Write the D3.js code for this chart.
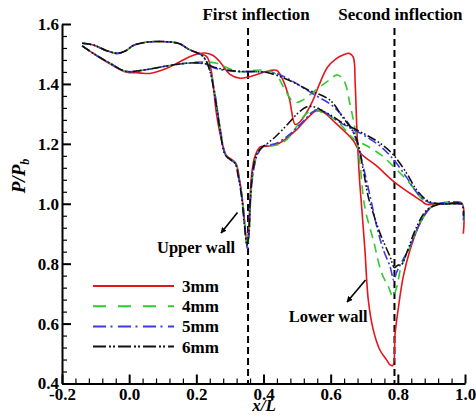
<!DOCTYPE html>
<html>
<head>
<meta charset="utf-8">
<script src="https://cdn.jsdelivr.net/npm/d3@7"></script>
<style>
  body { margin: 0; background: #fff; }
  svg { display: block; }
</style>
</head>
<body>
<svg id="chart" width="476" height="419"></svg>
<script>
// ---- Wall pressure distributions P/Pb along x/L for four step heights ----
const seriesNames = ["3mm", "4mm", "5mm", "6mm"];
const seriesColors = ["#e3161e", "#2fcc2f", "#3a3ae6", "#111111"];

const xTicks = [-0.2, 0.0, 0.2, 0.4, 0.6, 0.8, 1.0];
const yTicks = [0.4, 0.6, 0.8, 1.0, 1.2, 1.4, 1.6];
const inflections = [0.354, 0.79];
const inflectionLabels = ["First inflection", "Second inflection"];

// shared leading parts (the four cases coincide upstream)
const upperLead = [[-0.14,1.536],[-0.107,1.53],[-0.067,1.511],[-0.035,1.502],[-0.01,1.511],[0.012,1.528],[0.05,1.539],[0.11,1.541],[0.15,1.534],[0.175,1.517],[0.2,1.505]];
const lowerLead = [[-0.14,1.527],[-0.107,1.502],[-0.057,1.469],[-0.01,1.442],[0.042,1.446],[0.112,1.46],[0.171,1.469]];

// upper wall
const upper3mm = [[0.215,1.5],[0.232,1.49],[0.245,1.44],[0.26,1.30],[0.275,1.213],[0.29,1.16],[0.305,1.148],[0.318,1.135],[0.328,1.085],[0.337,1.015],[0.344,0.93],[0.35,0.87],[0.355,0.9],[0.36,1.02],[0.366,1.11],[0.375,1.16],[0.39,1.19],[0.41,1.192],[0.447,1.202],[0.497,1.246],[0.53,1.285],[0.556,1.31],[0.576,1.307],[0.616,1.268],[0.666,1.213],[0.69,1.168],[0.735,1.128],[0.79,1.072],[0.836,1.035],[0.87,1.01],[0.885,0.998],[0.92,1.0],[0.99,1.002]];
const upper4mm = [[0.215,1.497],[0.23,1.475],[0.243,1.435],[0.258,1.35],[0.272,1.245],[0.287,1.163],[0.302,1.148],[0.317,1.135],[0.327,1.085],[0.337,1.015],[0.345,0.925],[0.351,0.86],[0.357,0.9],[0.362,1.02],[0.37,1.11],[0.382,1.165],[0.397,1.188],[0.41,1.192],[0.44,1.196],[0.47,1.215],[0.5,1.26],[0.525,1.298],[0.55,1.313],[0.575,1.305],[0.6,1.29],[0.62,1.275],[0.645,1.245],[0.67,1.215],[0.7,1.198],[0.75,1.163],[0.797,1.113],[0.836,1.068],[0.866,1.023],[0.89,1.003],[0.92,1.0],[0.99,1.0]];
const upper5mm = [[0.215,1.497],[0.228,1.478],[0.242,1.44],[0.257,1.355],[0.272,1.245],[0.287,1.163],[0.302,1.147],[0.317,1.133],[0.327,1.085],[0.337,1.015],[0.345,0.92],[0.352,0.85],[0.357,0.9],[0.362,1.02],[0.37,1.11],[0.382,1.165],[0.397,1.19],[0.41,1.195],[0.434,1.2],[0.474,1.228],[0.514,1.27],[0.544,1.305],[0.565,1.315],[0.593,1.298],[0.63,1.27],[0.66,1.252],[0.7,1.228],[0.75,1.19],[0.787,1.148],[0.826,1.088],[0.856,1.038],[0.886,1.008],[0.91,1.0],[0.95,1.0],[0.99,1.0]];
const upper6mm = [[0.215,1.497],[0.228,1.48],[0.24,1.445],[0.255,1.36],[0.27,1.25],[0.285,1.165],[0.3,1.148],[0.315,1.135],[0.325,1.09],[0.335,1.02],[0.343,0.93],[0.351,0.86],[0.356,0.9],[0.361,1.02],[0.368,1.11],[0.38,1.165],[0.395,1.188],[0.405,1.196],[0.434,1.222],[0.474,1.268],[0.505,1.305],[0.53,1.324],[0.555,1.322],[0.575,1.31],[0.6,1.296],[0.638,1.268],[0.658,1.257],[0.697,1.235],[0.747,1.202],[0.787,1.163],[0.826,1.102],[0.856,1.046],[0.886,1.012],[0.91,1.002],[0.95,1.0],[0.99,1.0]];

// lower wall
const lower3mm = [[-0.14,1.527],[-0.107,1.502],[-0.057,1.467],[-0.01,1.44],[0.03,1.437],[0.062,1.435],[0.112,1.452],[0.151,1.474],[0.191,1.496],[0.225,1.503],[0.25,1.495],[0.27,1.474],[0.3,1.432],[0.33,1.419],[0.358,1.424],[0.417,1.444],[0.44,1.445],[0.457,1.415],[0.477,1.35],[0.494,1.265],[0.505,1.27],[0.52,1.29],[0.545,1.34],[0.565,1.395],[0.59,1.455],[0.615,1.483],[0.64,1.498],[0.655,1.502],[0.667,1.49],[0.673,1.40],[0.678,1.25],[0.686,1.08],[0.693,0.979],[0.702,0.846],[0.712,0.679],[0.727,0.578],[0.747,0.511],[0.767,0.478],[0.777,0.462],[0.785,0.46],[0.792,0.568],[0.802,0.656],[0.816,0.756],[0.836,0.845],[0.861,0.923],[0.886,0.975],[0.91,0.996],[0.95,1.0],[0.99,1.003],[0.995,0.90]];
const lower4mm = [[0.211,1.474],[0.261,1.469],[0.29,1.455],[0.325,1.441],[0.395,1.446],[0.434,1.435],[0.464,1.38],[0.484,1.346],[0.5,1.338],[0.517,1.346],[0.556,1.38],[0.596,1.413],[0.62,1.43],[0.64,1.41],[0.658,1.33],[0.673,1.246],[0.687,1.135],[0.697,1.023],[0.705,0.97],[0.727,0.879],[0.752,0.768],[0.772,0.723],[0.785,0.69],[0.797,0.723],[0.81,0.79],[0.836,0.855],[0.866,0.935],[0.896,0.985],[0.92,1.0],[0.99,1.0],[0.995,0.93]];
const lower5mm = [[0.221,1.468],[0.256,1.452],[0.315,1.442],[0.375,1.441],[0.417,1.439],[0.45,1.43],[0.5,1.40],[0.553,1.363],[0.6,1.332],[0.63,1.30],[0.66,1.255],[0.68,1.2],[0.7,1.11],[0.72,1.012],[0.737,0.925],[0.757,0.846],[0.777,0.79],[0.788,0.745],[0.797,0.773],[0.812,0.806],[0.836,0.857],[0.866,0.935],[0.896,0.985],[0.92,1.0],[0.99,1.0],[0.995,0.945]];
const lower6mm = [[0.221,1.469],[0.256,1.455],[0.315,1.443],[0.375,1.441],[0.414,1.437],[0.474,1.413],[0.533,1.38],[0.598,1.346],[0.638,1.285],[0.658,1.257],[0.678,1.213],[0.697,1.113],[0.712,1.023],[0.722,0.985],[0.747,0.901],[0.777,0.823],[0.79,0.787],[0.8,0.795],[0.812,0.798],[0.826,0.835],[0.856,0.923],[0.886,0.979],[0.916,0.996],[0.95,1.0],[0.99,1.0],[0.995,0.96]];

// annotation anchors in data units: [textX, textY, arrowFromX, arrowFromY, arrowToX, arrowToY]
const upperNote = [0.083, 0.836, 0.3226, 0.971, 0.2735, 0.902];
const lowerNote = [0.475, 0.605, 0.7038, 0.7455, 0.6487, 0.672];

// ---- drawing ----
const svg = d3.select("#chart");
const x = d3.scaleLinear().domain([-0.2, 1.0]).range([62, 465]);
const y = d3.scaleLinear().domain([0.4, 1.6]).range([383.5, 24]);

const serif = "'Liberation Serif', 'Times New Roman', serif";

const curves = [
  { up: upperLead.concat(upper3mm), low: lower3mm },
  { up: upperLead.concat(upper4mm), low: lowerLead.concat(lower4mm) },
  { up: upperLead.concat(upper5mm), low: lowerLead.concat(lower5mm) },
  { up: upperLead.concat(upper6mm), low: lowerLead.concat(lower6mm) }
];
const plotDash = [null, "9,6", "9,3,2,3", "9,2.5,1.6,2,1.6,2.5"];
const legendDash = [null, "13,12", "13,4.5,2,5.5", "13,3,2,2,2,3"];

// axes (inward ticks, left and bottom only)
const minorY = d3.range(0.4, 1.6001, 0.04).filter(v => !yTicks.some(t => Math.abs(t - v) < 1e-6));
const minorX = d3.range(-0.2, 1.0001, 0.04).filter(v => !xTicks.some(t => Math.abs(t - v) < 1e-6));

const gyMinor = svg.append("g").attr("transform", "translate(62,0)")
  .call(d3.axisLeft(y).tickValues(minorY).tickSize(-5).tickSizeOuter(0).tickFormat(""));
gyMinor.select(".domain").remove();
gyMinor.selectAll("line").attr("stroke", "#000").attr("stroke-width", 1.2);

const gxMinor = svg.append("g").attr("transform", "translate(0,383.5)")
  .call(d3.axisBottom(x).tickValues(minorX).tickSize(-5).tickSizeOuter(0).tickFormat(""));
gxMinor.select(".domain").remove();
gxMinor.selectAll("line").attr("stroke", "#000").attr("stroke-width", 1.2);

const gy = svg.append("g").attr("transform", "translate(62,0)")
  .call(d3.axisLeft(y).tickValues(yTicks).tickSize(-9).tickSizeOuter(0).tickPadding(3)
    .tickFormat(d => d.toFixed(1)));
const gx = svg.append("g").attr("transform", "translate(0,383.5)")
  .call(d3.axisBottom(x).tickValues(xTicks).tickSize(-9).tickSizeOuter(0).tickPadding(4)
    .tickFormat(d => d.toFixed(1)));
[gy, gx].forEach(g => {
  g.attr("font-family", serif).attr("font-size", 17).attr("font-weight", "bold");
  g.select(".domain").attr("stroke", "#000").attr("stroke-width", 2);
  g.selectAll(".tick line").attr("stroke", "#000").attr("stroke-width", 2);
  g.selectAll(".tick text").attr("fill", "#000");
});

// inflection markers
inflections.forEach((v, i) => {
  svg.append("line")
    .attr("x1", x(v)).attr("x2", x(v))
    .attr("y1", y(1.5866)).attr("y2", y(0.4))
    .attr("stroke", "#000").attr("stroke-width", 2)
    .attr("stroke-dasharray", "7,4");
  svg.append("text")
    .attr("x", x(v) + (i === 0 ? 8 : 6)).attr("y", 20)
    .attr("text-anchor", "middle")
    .attr("font-family", serif).attr("font-weight", "bold").attr("font-size", 17)
    .text(inflectionLabels[i]);
});

// pressure curves
const line = d3.line()
  .x(d => x(d[0])).y(d => y(d[1]))
  .curve(d3.curveCatmullRom.alpha(0.5));

curves.forEach((c, i) => {
  [c.up, c.low].forEach(pts => {
    svg.append("path")
      .datum(pts)
      .attr("d", line)
      .attr("fill", "none")
      .attr("stroke", seriesColors[i])
      .attr("stroke-width", 1.6)
      .attr("stroke-linejoin", "round")
      .attr("stroke-dasharray", plotDash[i]);
  });
});

// wall annotations with arrows
svg.append("defs").append("marker")
  .attr("id", "arrowHead")
  .attr("viewBox", "0 0 10 10").attr("refX", 9).attr("refY", 5)
  .attr("markerWidth", 6).attr("markerHeight", 6)
  .attr("markerUnits", "userSpaceOnUse")
  .attr("orient", "auto")
  .append("path").attr("d", "M0,0 L10,5 L0,10 Z").attr("fill", "#000");

[[upperNote, "Upper wall"], [lowerNote, "Lower wall"]].forEach(([n, label]) => {
  svg.append("line")
    .attr("x1", x(n[2])).attr("y1", y(n[3]))
    .attr("x2", x(n[4])).attr("y2", y(n[5]))
    .attr("stroke", "#000").attr("stroke-width", 1.6)
    .attr("marker-end", "url(#arrowHead)");
  svg.append("text")
    .attr("x", x(n[0])).attr("y", y(n[1]))
    .attr("font-family", serif).attr("font-weight", "bold").attr("font-size", 16.5)
    .text(label);
});

// legend
const legend = svg.append("g");
seriesNames.forEach((name, i) => {
  const ly = 286 + i * 20.2;
  legend.append("line")
    .attr("x1", 93).attr("x2", 174).attr("y1", ly).attr("y2", ly)
    .attr("stroke", seriesColors[i]).attr("stroke-width", 2)
    .attr("stroke-dasharray", legendDash[i]);
  legend.append("text")
    .attr("x", 182).attr("y", ly + 6)
    .attr("font-family", serif).attr("font-weight", "bold").attr("font-size", 17)
    .text(name);
});

// axis titles
const yTitle = svg.append("text")
  .attr("transform", "translate(25,176) rotate(-90)")
  .attr("text-anchor", "middle")
  .attr("font-family", serif).attr("font-weight", "bold").attr("font-style", "italic")
  .attr("font-size", 19);
yTitle.append("tspan").text("P/P");
yTitle.append("tspan").attr("font-size", 12).attr("dy", 4).text("b");

svg.append("text")
  .attr("x", 264).attr("y", 411)
  .attr("text-anchor", "middle")
  .attr("font-family", serif).attr("font-weight", "bold").attr("font-style", "italic")
  .attr("font-size", 17)
  .text("x/L");
</script>
</body>
</html>
